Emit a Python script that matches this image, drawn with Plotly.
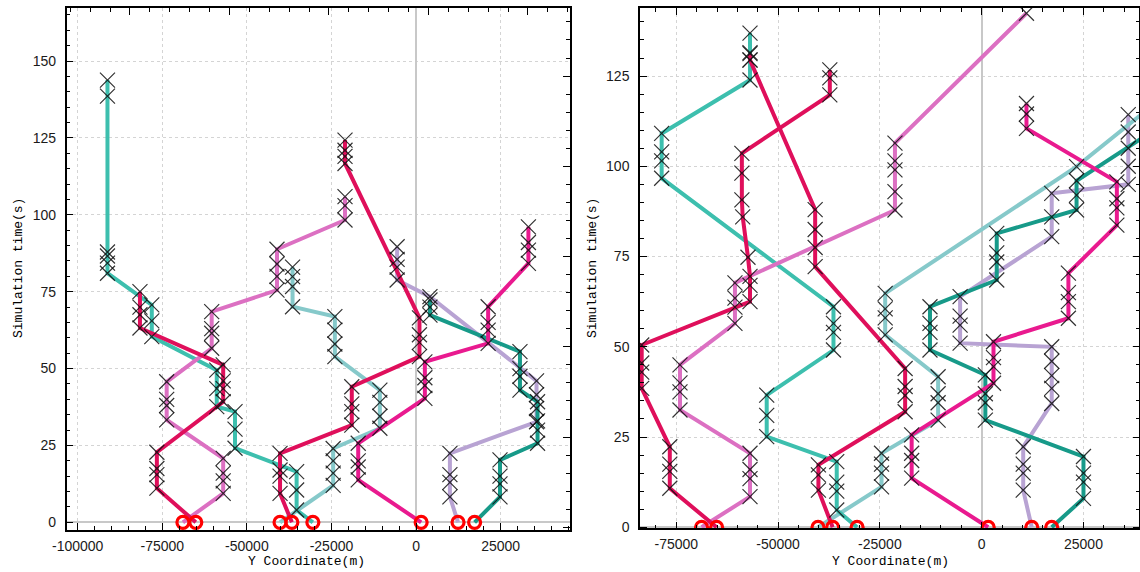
import plotly.graph_objects as go

# ---------------- left panel trajectories (Y coordinate in m, time in s) ----------------
l_teal_y = [-30500, -35300, -35300, -35300, -53500, -53500, -53500, -58900, -58900, -58900,
            -78100, -78100, -78100, -91200, -91200, -91200, -91200, -91200, -91200]
l_teal_t = [0, 4, 10.5, 16.5, 24.1, 30.3, 36, 37.6, 43.5, 49.5,
            60.4, 65.5, 70.7, 81, 84.3, 86.6, 87.9, 138.6, 143.8]

l_lteal_y = [-40200, -24500, -24500, -24500, -24500, -10700, -10700, -10700, -10700,
             -24000, -24000, -24000, -24000, -36500, -36500, -36500, -36500]
l_lteal_t = [0, 12, 16, 20, 24, 30.6, 34.5, 39, 43,
             53.9, 58, 62.5, 66.9, 70.1, 76.7, 79.9, 83]

l_crim1_y = [-65100, -76600, -76600, -76600, -76600, -57000, -57000, -57000, -57000,
             -81600, -81600, -81600, -81600]
l_crim1_t = [0, 11.1, 15.5, 17.5, 22.8, 39.2, 43.5, 46, 51.2,
             63.2, 67.5, 70, 75]

l_orch_y = [-68900, -57000, -57000, -57000, -57000, -73700, -73700, -73700, -73700,
            -60400, -60400, -60400, -60400, -41100, -41100, -41100, -41100,
            -21000, -21000, -21000]
l_orch_t = [0, 9.4, 13.5, 16, 20.8, 33.3, 38, 40, 45.7,
            56.6, 61.5, 63, 68.5, 75.5, 80, 84, 88.8,
            98.3, 103, 105.9]

l_crim2_y = [-36700, -40200, -40200, -40200, -40200, -19000, -19000, -19000, -19000,
             1000, 1000, 1000, 1000, -21000, -21000, -21000, -21000]
l_crim2_t = [0, 9.4, 15, 17, 22.4, 31.6, 36, 38.5, 44.1,
             53.9, 58.5, 61, 66.5, 116.7, 119, 121, 124.3]

l_pink_y = [1500, -17100, -17100, -17100, -17100, 2600, 2600, 2600, 2600,
            21300, 21300, 21300, 21300, 33200, 33200, 33200, 33200]
l_pink_t = [0, 13.8, 18, 20, 25.7, 40.3, 44.5, 47, 52.2,
            58.2, 62.5, 65, 70.1, 84.2, 88.5, 91, 96.1]

l_lav_y = [12400, 10000, 10000, 10000, 10000, 35600, 35600, 35600, 35600,
           4100, -5600, -5600, -5600, -5600]
l_lav_t = [0, 8.3, 13, 15.5, 22.4, 32.7, 37, 41.5, 46,
           73.4, 78.8, 83, 85.5, 89.6]

l_dteal_y = [17300, 24800, 24800, 24800, 24800, 35900, 35900, 35900, 35900,
             30700, 30700, 30700, 30700, 4100, 4100, 4100]
l_dteal_t = [0, 8.3, 12.5, 15, 20.3, 25.7, 30, 33, 39.2,
             43, 47.5, 50, 55.5, 67.4, 70, 72.3]

# ---------------- right panel trajectories ----------------
r_crim1_y = [-65100, -76600, -76600, -76600, -76600, -83500, -83500, -83500, -83500,
             -56900, -56900, -56900, -57400, -58700, -58900, -58900, -58900,
             -37300, -37300, -37300]
r_crim1_t = [0, 10.8, 15.5, 17.5, 22.3, 38.5, 43, 45.5, 50.5,
             62.5, 67, 69.5, 74.8, 86, 90.7, 98.1, 103.6,
             119.8, 124.5, 126.7]

r_crim2_y = [-36600, -40100, -40100, -40100, -18800, -18800, -18800, -18800,
             -40900, -40900, -40900, -40900, -56900, -56900]
r_crim2_t = [0, 10.3, 14.5, 17.3, 32, 36.5, 39, 44,
             72.2, 77.5, 82.5, 88, 129.4, 131.2]

r_teal_y = [-30600, -35600, -35600, -35600, -35600, -52800, -52800, -52800,
            -36400, -36400, -36400, -36400, -78600, -78600, -78600, -78600,
            -56900, -56900, -56900, -56900]
r_teal_t = [0, 4.8, 10, 12.5, 18.2, 25.1, 31, 36.6,
            49.1, 54, 56.5, 61.1, 96.7, 101.5, 104, 109.1,
            123.9, 129.5, 131.5, 136.9]

r_orch_y = [-68800, -56900, -56900, -56900, -56900, -74100, -74100, -74100, -74100,
            -60600, -60600, -60600, -60600, -21300, -21300, -21300, -21300, -21300,
            11000]
r_orch_t = [0, 8.5, 13.5, 16, 20.5, 32.5, 37.5, 40, 45,
            56.5, 61, 63.5, 67.7, 87.9, 93, 99, 101.5, 106.4,
            142.4]

r_pink_y = [1600, -17200, -17200, -17200, -17200, 2900, 2900, 2900, 2900,
            21300, 21300, 21300, 21300, 33200, 33200, 33200, 33200,
            11000, 11000, 11000]
r_pink_t = [0, 13.6, 18.5, 20.5, 25.6, 39.9, 44.5, 47, 51.4,
            57.9, 62.5, 65, 70.4, 83.7, 88.5, 91, 95.7,
            110.5, 114.5, 117.4]

r_lav_y = [12300, 10200, 10200, 10200, 10200, 17200, 17200, 17200, 17200, 17200,
           -5300, -5300, -5300, -5300, 17200, 17200, 17200,
           36000, 36000, 36000, 36000, 36000]
r_lav_t = [0, 10.3, 15, 17.5, 22.3, 34.3, 38.5, 42, 46, 50,
           51, 56, 58.5, 63.9, 80.5, 86, 92.5,
           95, 100, 105, 109.5, 114.3]

r_lteal_y = [-40200, -24600, -24600, -24600, -24600, -10700, -10700, -10700, -10700,
             -23700, -23700, -23700, -23700, 23300, 41000]
r_lteal_t = [0, 11.2, 15, 17.5, 20.5, 29.7, 34.5, 37, 41.7,
             53.3, 58, 60.5, 64.8, 99.9, 116]

r_dteal_y = [17200, 25000, 25000, 25000, 25000, 900, 900, 900, 900,
             -12700, -12700, -12700, -12700, 3700, 3700, 3700, 3700,
             23300, 23300, 23300, 41000]
r_dteal_t = [0, 8, 12.5, 15, 19.6, 29.7, 34.5, 37, 42.2,
             49.1, 54, 56.5, 61.1, 68.5, 73.5, 76, 81.4,
             87.9, 92, 96, 109]

# tick labels
left_xticks = [-100000, -75000, -50000, -25000, 0, 25000]
right_xticks = [-75000, -50000, -25000, 0, 25000]
left_yticks = [0, 25, 50, 75, 100, 125, 150]
right_yticks = [0, 25, 50, 75, 100, 125]

TEAL = '#3dbfae'
LTEAL = '#86c9ca'
DTEAL = '#179a89'
CRIMSON = '#df0f5b'
PINK = '#e91a8f'
ORCHID = '#dc70c2'
LAV = '#b8a3d3'

left_sets = [
    (l_lav_y, l_lav_t, LAV), (l_lteal_y, l_lteal_t, LTEAL), (l_dteal_y, l_dteal_t, DTEAL),
    (l_teal_y, l_teal_t, TEAL), (l_orch_y, l_orch_t, ORCHID), (l_pink_y, l_pink_t, PINK),
    (l_crim1_y, l_crim1_t, CRIMSON), (l_crim2_y, l_crim2_t, CRIMSON),
]
right_sets = [
    (r_lav_y, r_lav_t, LAV), (r_lteal_y, r_lteal_t, LTEAL), (r_dteal_y, r_dteal_t, DTEAL),
    (r_teal_y, r_teal_t, TEAL), (r_orch_y, r_orch_t, ORCHID), (r_pink_y, r_pink_t, PINK),
    (r_crim1_y, r_crim1_t, CRIMSON), (r_crim2_y, r_crim2_t, CRIMSON),
]

fig = go.Figure()


def add_panel(sets, xa, ya):
    for ys, ts, col in sets:
        fig.add_trace(go.Scatter(x=ys, y=ts, mode='lines', xaxis=xa, yaxis=ya,
                                 line=dict(color=col, width=4), hoverinfo='skip',
                                 showlegend=False))
    for ys, ts, col in sets:
        fig.add_trace(go.Scatter(x=ys[1:], y=ts[1:], mode='markers', xaxis=xa, yaxis=ya,
                                 marker=dict(symbol='x-thin', size=15, color='#1a1a1a',
                                             line=dict(color='rgba(15,15,15,0.85)', width=1.2)),
                                 hoverinfo='skip', showlegend=False))
    fig.add_trace(go.Scatter(x=[s[0][0] for s in sets], y=[s[1][0] for s in sets],
                             mode='markers', xaxis=xa, yaxis=ya,
                             marker=dict(symbol='circle-open', size=12, color='#ff0000',
                                         line=dict(color='#ff0000', width=3.2)),
                             hoverinfo='skip', showlegend=False))


add_panel(left_sets, 'x', 'y')
add_panel(right_sets, 'x2', 'y2')

# empty traces so the extra frame-tick axes are rendered
fig.add_trace(go.Scatter(x=[None], y=[None], xaxis='x3', yaxis='y', showlegend=False, hoverinfo='skip'))
fig.add_trace(go.Scatter(x=[None], y=[None], xaxis='x', yaxis='y3', showlegend=False, hoverinfo='skip'))

tickfont = dict(family='Liberation Sans, Arial, sans-serif', size=14, color='#1a1a1a')
GRID = '#d4d4d4'
ZERO = '#c8c8c8'


def hyph(v):
    return str(v).replace('\u2212', '-')


common_x = dict(ticks='inside', ticklen=7, tickwidth=1.2, tickcolor='black',
                showline=True, linecolor='black', linewidth=1.5,
                showgrid=True, gridcolor=GRID, griddash='dot', gridwidth=1,
                zeroline=True, zerolinecolor=ZERO, zerolinewidth=1.5,
                tickfont=tickfont, ticklabelstandoff=2, fixedrange=True, automargin=False,
                minor=dict(ticks='inside', ticklen=4, tickwidth=1, tickcolor='black',
                           dtick=5000, tick0=0, showgrid=False))
common_y = dict(ticks='inside', ticklen=7, tickwidth=1.2, tickcolor='black',
                showline=True, linecolor='black', linewidth=1.5,
                showgrid=True, gridcolor=GRID, griddash='dot', gridwidth=1,
                zeroline=True, zerolinecolor=ZERO, zerolinewidth=1.5,
                tickfont=tickfont, ticklabelstandoff=6, fixedrange=True, automargin=False,
                minor=dict(ticks='inside', ticklen=4, tickwidth=1, tickcolor='black',
                           dtick=5, tick0=0, showgrid=False))

fig.update_layout(
    width=1140, height=572,
    margin=dict(l=0, r=0, t=0, b=0, autoexpand=False),
    paper_bgcolor='white', plot_bgcolor='white',
    xaxis=dict(common_x, domain=[0.0585, 0.5004], range=[-103250, 45625], anchor='y',
               tickmode='array', tickvals=left_xticks, ticktext=[hyph(v) for v in left_xticks],
               mirror=True),
    yaxis=dict(common_y, domain=[0.0734, 0.986], range=[-2.5, 167.25], anchor='x',
               tickmode='array', tickvals=left_yticks, ticktext=[str(v) for v in left_yticks],
               mirror=True),
    xaxis3=dict(overlaying='x', anchor='y', side='top', range=[-4.636, 0.427],
                ticks='inside', ticklen=7, tickwidth=1.2, tickcolor='black',
                dtick=1, tick0=0, showticklabels=False, showgrid=False, zeroline=False,
                showline=False, fixedrange=True, automargin=False,
                minor=dict(ticks='inside', ticklen=4, tickwidth=1, tickcolor='black',
                           dtick=0.2, tick0=0, showgrid=False)),
    yaxis3=dict(overlaying='y', anchor='x', side='right', range=[-0.75, 143.85],
                ticks='inside', ticklen=7, tickwidth=1.2, tickcolor='black',
                dtick=25, tick0=0, showticklabels=False, showgrid=False, zeroline=False,
                showline=False, fixedrange=True, automargin=False,
                minor=dict(ticks='inside', ticklen=4, tickwidth=1, tickcolor='black',
                           dtick=5, tick0=0, showgrid=False)),
    xaxis2=dict(common_x, domain=[0.5614, 0.99956], range=[-83920, 38760], anchor='y2',
                tickmode='array', tickvals=right_xticks, ticktext=[hyph(v) for v in right_xticks],
                mirror='allticks'),
    yaxis2=dict(common_y, domain=[0.0764, 0.986], range=[-0.28, 143.85], anchor='x2',
                tickmode='array', tickvals=right_yticks, ticktext=[str(v) for v in right_yticks],
                mirror='allticks'),
)

title_font = dict(family='Liberation Mono, DejaVu Sans Mono, monospace', size=13, color='#000000')
for x, y, text, ang in [
    (306, 561, 'Y Coordinate(m)', 0),
    (890, 561, 'Y Coordinate(m)', 0),
    (18, 268, 'Simulation time(s)', -90),
    (592, 268, 'Simulation time(s)', -90),
]:
    fig.add_annotation(x=x / 1140, y=1 - y / 572, xref='paper', yref='paper', text=text,
                       showarrow=False, textangle=ang, font=title_font,
                       xanchor='center', yanchor='middle')

fig.write_html('out.html')
